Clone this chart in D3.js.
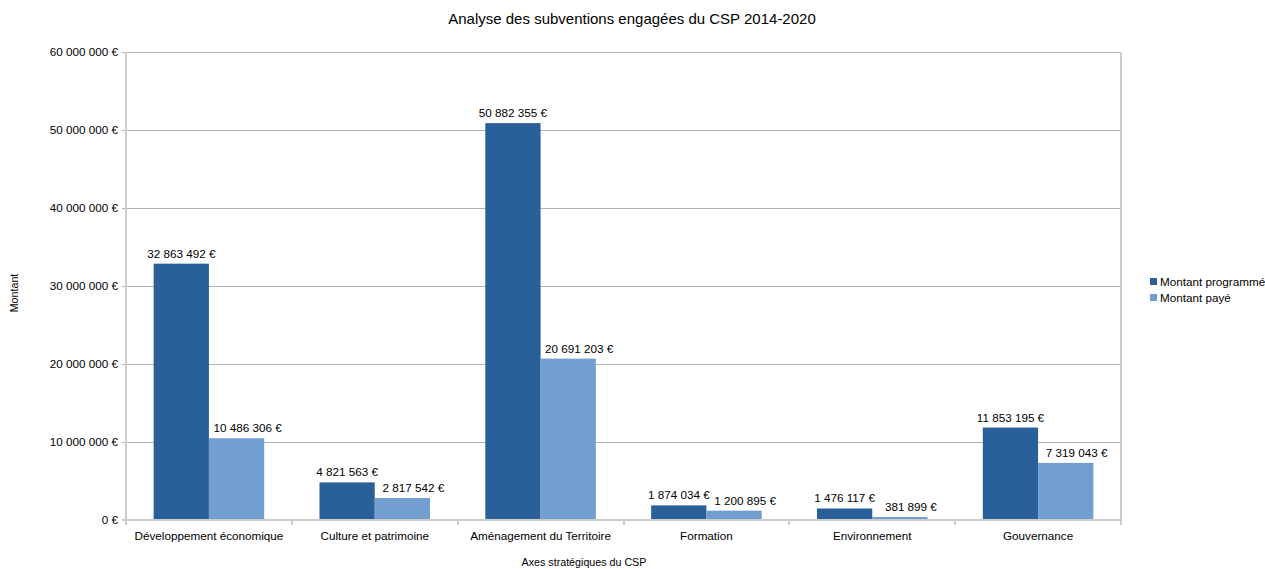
<!DOCTYPE html>
<html><head><meta charset="utf-8">
<script src="https://cdn.jsdelivr.net/npm/d3@7"></script>
<style>body{margin:0;background:#fff;font-family:"Liberation Sans",Arial,sans-serif;}</style>
</head><body><svg id="c" width="1265" height="569"></svg>
<script>
const categories = ["Développement économique","Culture et patrimoine","Aménagement du Territoire","Formation","Environnement","Gouvernance"];
const seriesNames = ["Montant programmé","Montant payé"];
const programme = [32863492, 4821563, 50882355, 1874034, 1476117, 11853195];
const paye = [10486306, 2817542, 20691203, 1200895, 381899, 7319043];
const yTicks = [0,10000000,20000000,30000000,40000000,50000000,60000000];
const colors = ["#2a6099","#729fcf"];

const svg = d3.select("#c");
const L=126, R=1121, T=52, B=520;
const FS = 11.7;
const fmt = v => d3.format(",")(v).replace(/,/g," ") + " €";
const x0 = d3.scaleBand().domain(categories).range([L,R]).padding(0);
const x1 = d3.scaleBand().domain([0,1]).range([0, x0.bandwidth()]).paddingOuter(0.5).paddingInner(0);
const y = d3.scaleLinear().domain([0,60000000]).range([B,T]);

// grid
svg.append("g").selectAll("line").data(yTicks).join("line")
  .attr("x1",L-4).attr("x2",R).attr("y1",d=>y(d)+0.5).attr("y2",d=>y(d)+0.5)
  .attr("stroke","#b3b3b3").attr("stroke-width",1);
// y axis labels
svg.append("g").selectAll("text").data(yTicks).join("text")
  .attr("x",L-8).attr("y",d=>y(d)+4).attr("text-anchor","end")
  .attr("font-size",FS).attr("fill","#000").text(d=>fmt(d));

const data = [programme, paye];
const g = svg.append("g");
categories.forEach((c,i)=>{
  [0,1].forEach(s=>{
    const v = data[s][i];
    const bx = x0(c)+x1(s);
    g.append("rect").attr("x",bx).attr("y",y(v)).attr("width",x1.bandwidth()).attr("height",B-y(v)).attr("fill",colors[s]);
    g.append("text").attr("x",bx+x1.bandwidth()/2+(s===1?11:0)).attr("y",y(v)-6).attr("text-anchor","middle")
      .attr("font-size",FS).attr("fill","#000").text(fmt(v));
  });
});
// axes lines
const axisCol = "#cccccc";
svg.append("line").attr("x1",L).attr("x2",L).attr("y1",T).attr("y2",B+1).attr("stroke",axisCol).attr("stroke-width",2);
svg.append("line").attr("x1",R).attr("x2",R).attr("y1",T).attr("y2",B+1).attr("stroke",axisCol).attr("stroke-width",2);
svg.append("line").attr("x1",L-4).attr("x2",R).attr("y1",B).attr("y2",B).attr("stroke",axisCol).attr("stroke-width",2);
// category ticks
const bounds = categories.map(c=>x0(c)).concat([R]);
svg.append("g").selectAll("line").data(bounds).join("line")
  .attr("x1",d=>Math.round(d)).attr("x2",d=>Math.round(d)).attr("y1",B).attr("y2",B+5).attr("stroke",axisCol).attr("stroke-width",2);
svg.append("g").selectAll("text").data(categories).join("text")
  .attr("x",d=>x0(d)+x0.bandwidth()/2).attr("y",B+20).attr("text-anchor","middle")
  .attr("font-size",FS).attr("fill","#000").text(d=>d);

// titles
svg.append("text").attr("x",632).attr("y",24).attr("text-anchor","middle").attr("font-size",15).attr("fill","#000").text("Analyse des subventions engagées du CSP 2014-2020");
svg.append("text").attr("x",584).attr("y",566).attr("text-anchor","middle").attr("font-size",10.7).attr("fill","#000").text("Axes stratégiques du CSP");
svg.append("text").attr("transform","translate(18,293) rotate(-90)").attr("text-anchor","middle").attr("font-size",10.7).attr("fill","#000").text("Montant");

// legend
seriesNames.forEach((n,i)=>{
  svg.append("rect").attr("x",1150).attr("y",278+i*16).attr("width",7).attr("height",7).attr("fill",colors[i]);
  svg.append("text").attr("x",1160).attr("y",286+i*16).attr("font-size",FS).attr("fill","#000").text(n);
});
</script></body></html>
